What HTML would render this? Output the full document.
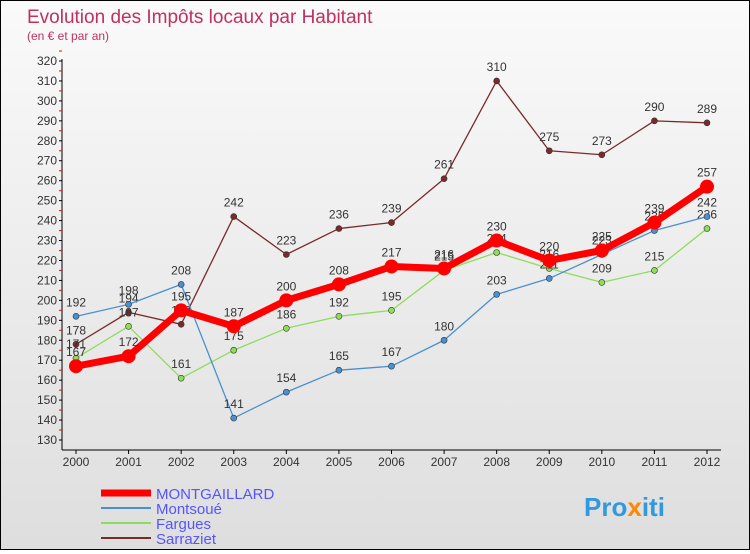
<!DOCTYPE html>
<html><head><meta charset="utf-8"><style>
body{margin:0;}
#c{width:748px;height:548px;border:1px solid #000;background:linear-gradient(#fafafa,#dedede);position:relative;font-family:"Liberation Sans",sans-serif;}
svg text{font-family:"Liberation Sans",sans-serif;}
</style></head><body>
<div id="c">
<svg id="s" width="748" height="548">
<text x="26" y="22" font-size="19" fill="#c0315e">Evolution des Impôts locaux par Habitant</text>
<text x="26" y="39" font-size="12" fill="#c0315e">(en € et par an)</text>
<g id="axes"></g><g id="series"></g>
<g>
<line x1="100" y1="492" x2="150" y2="492" stroke="#f00" stroke-width="7"/>
<text x="155" y="498" font-size="15" fill="#5555ff">MONTGAILLARD</text>
<line x1="100" y1="507" x2="150" y2="507" stroke="#4a90d0" stroke-width="2"/>
<text x="155" y="513" font-size="15" fill="#5555ff">Montsoué</text>
<line x1="100" y1="522" x2="150" y2="522" stroke="#8fdc5c" stroke-width="2"/>
<text x="155" y="528" font-size="15" fill="#5555ff">Fargues</text>
<line x1="100" y1="537" x2="150" y2="537" stroke="#7a2a2a" stroke-width="2"/>
<text x="155" y="543" font-size="15" fill="#5555ff">Sarraziet</text>
</g>
<text x="583" y="515" font-size="26" font-weight="bold" fill="#3399dd">Pro<tspan fill="#ff8800">x</tspan>iti</text>
</svg></div>
<script>
const years=[2000,2001,2002,2003,2004,2005,2006,2007,2008,2009,2010,2011,2012];
const montgaillard=[167,172,195,187,200,208,217,216,230,220,225,239,257];
const montsoue=[192,198,208,141,154,165,167,180,203,211,223,235,242];
const fargues=[171,187,161,175,186,192,195,215,224,216,209,215,236];
const sarraziet=[178,194,188,242,223,236,239,261,310,275,273,290,289];
const yTicks=[130,140,150,160,170,180,190,200,210,220,230,240,250,260,270,280,290,300,310,320];
const NS="http://www.w3.org/2000/svg";
const x=i=>75+i*(706-75)/12;
const y=v=>439-(v-130)*(379/190);
function mk(t,a,p){const e=document.createElementNS(NS,t);for(const k in a)e.setAttribute(k,a[k]);p.appendChild(e);return e;}
const ax=document.getElementById('axes');
const yl=mk('line',{x1:61,y1:58,x2:61,y2:449,stroke:'#000'},ax);


const xl=mk('line',{x1:61,y1:449,x2:720,y2:449,stroke:'#000'},ax);


yTicks.forEach(v=>{
 mk('line',{x1:58,y1:y(v),x2:61,y2:y(v),stroke:'#000'},ax);
 mk('line',{x1:58,y1:y(v+5),x2:61,y2:y(v+5),stroke:'#f00'},ax);
 const t=mk('text',{x:56,y:y(v)+4,'font-size':12,fill:'#333','text-anchor':'end'},ax);t.textContent=v;
 
 
});
years.forEach((yr,i)=>{
 mk('line',{x1:x(i),y1:449,x2:x(i),y2:453,stroke:'#000'},ax);
 const t=mk('text',{x:x(i),y:465,'font-size':12,fill:'#333','text-anchor':'middle'},ax);t.textContent=yr;
 
 
});
const sg=document.getElementById('series');
function series(d,color,w,r,name){
 const g=mk('g',{},sg);
 
 
 const pl=mk('polyline',{points:d.map((v,i)=>x(i)+','+y(v)).join(' '),fill:'none',stroke:color,'stroke-width':w,'stroke-linejoin':'round'},g);
 
 
 d.forEach((v,i)=>{
  const c=mk('circle',{cx:x(i),cy:y(v),r:r,fill:color,stroke:'#333','stroke-width':r>5?0:0.6},g);
  
  
  const t=mk('text',{x:x(i),y:y(v)-10,'font-size':12,fill:'#333','text-anchor':'middle'},g);t.textContent=v;
  
  
 });
}
series(sarraziet,'#7a2a2a',1.3,3,'sarraziet');
series(fargues,'#8fdc5c',1.3,3,'fargues');
series(montsoue,'#4a90d0',1.3,3,'montsoue');
series(montgaillard,'#f00',7,7,'montgaillard');
</script>
</body></html>
